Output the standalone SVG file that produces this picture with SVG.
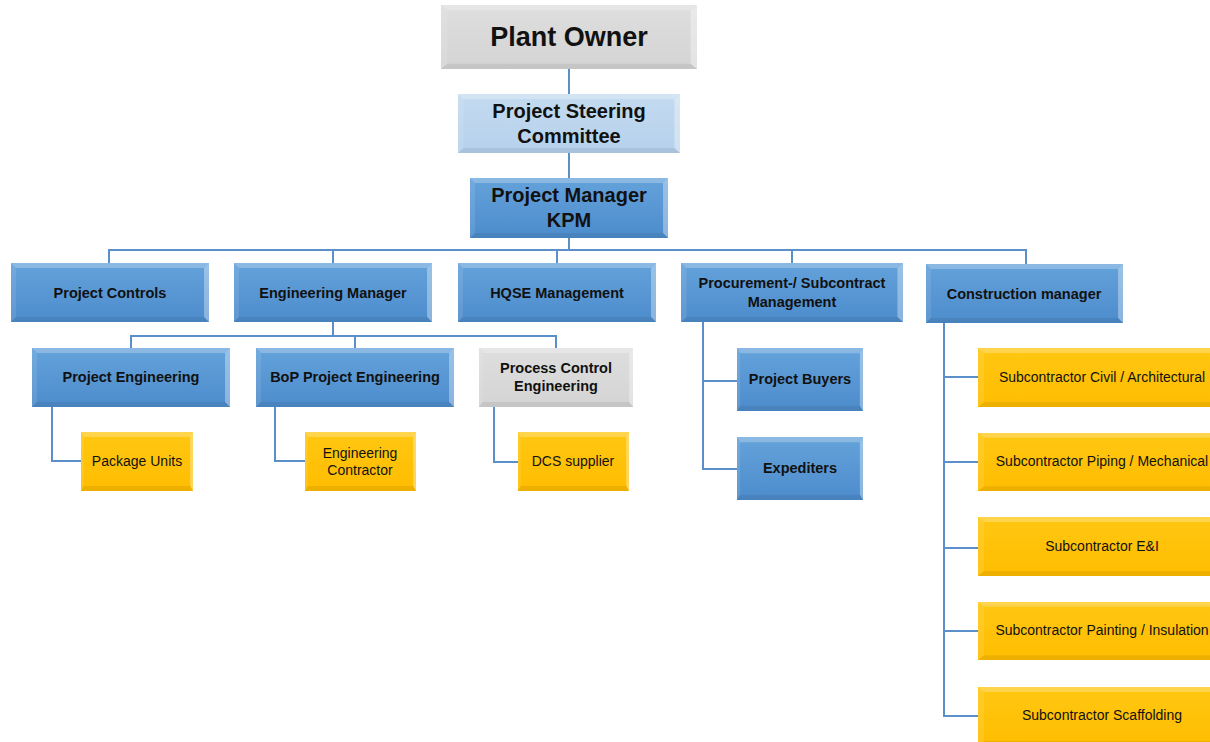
<svg xmlns="http://www.w3.org/2000/svg" width="1210" height="742" viewBox="0 0 1210 742">
<defs>
<linearGradient id="gBlue" x1="0" y1="0" x2="0" y2="1">
<stop offset="0" stop-color="#64a2db"/><stop offset="1" stop-color="#4d8ccc"/>
</linearGradient>
<linearGradient id="gLight" x1="0" y1="0" x2="0" y2="1">
<stop offset="0" stop-color="#c4dbf0"/><stop offset="1" stop-color="#b6d1ec"/>
</linearGradient>
<linearGradient id="gGray" x1="0" y1="0" x2="0" y2="1">
<stop offset="0" stop-color="#dedede"/><stop offset="1" stop-color="#d4d4d4"/>
</linearGradient>
<linearGradient id="gYellow" x1="0" y1="0" x2="0" y2="1">
<stop offset="0" stop-color="#ffc712"/><stop offset="1" stop-color="#ffbd00"/>
</linearGradient>
<symbol id="bevel" viewBox="0 0 200 60" preserveAspectRatio="none">
<polygon points="0,0 200,0 195,5 5,5" fill="#ffffff" fill-opacity="0.25"/>
<polygon points="0,0 5,5 5,55 0,60" fill="#ffffff" fill-opacity="0.1"/>
<polygon points="200,0 200,60 195,55 195,5" fill="#ffffff" fill-opacity="0.35"/>
<polygon points="0,60 200,60 195,55 5,55" fill="#000000" fill-opacity="0.07"/>
</symbol>
<style>
.blue{fill:url(#gBlue)}
.light{fill:url(#gLight)}
.gray{fill:url(#gGray)}
.yellow{fill:url(#gYellow)}
text{font-family:"Liberation Sans",Arial,sans-serif;fill:#111;text-anchor:middle}
.t1{font-size:27px;font-weight:bold}
.t2{font-size:20px;font-weight:bold}
.t3{font-size:14.5px;font-weight:bold}
.t4{font-size:14px}
.conn{fill:none;stroke:#5b8fca;stroke-width:2}
</style>
</defs>
<g id="connectors" class="conn">
<path d="M569,69 V94 M569,153 V178 M569,238 V250"/>
<path d="M109,263 V250 H1026 V264 M333,250 V263 M557,250 V263 M792,250 V263"/>
<path d="M333,322 V336 M131,348 V336 H556 V348 M355,336 V348"/>
<path d="M52,407 V461 H81 M275,407 V461 H305 M494,407 V462 H518"/>
<path d="M703,322 V469 H737 M703,381 H737"/>
<path d="M944,323 V716 H978 M944,377 H978 M944,462 H978 M944,548 H978 M944,631 H978"/>
</g>
<g id="plant-owner"><rect class="gray" x="441" y="5" width="256" height="64"/><use href="#bevel" x="441" y="5" width="256" height="64"/><text class="t1" x="569" y="46">Plant Owner</text></g>
<g id="steering"><rect class="light" x="458" y="94" width="222" height="59"/><use href="#bevel" x="458" y="94" width="222" height="59"/><text class="t2" x="569" y="118">Project Steering</text><text class="t2" x="569" y="143">Committee</text></g>
<g id="pm"><rect class="blue" x="470" y="178" width="198" height="60"/><use href="#bevel" x="470" y="178" width="198" height="60"/><text class="t2" x="569" y="202">Project Manager</text><text class="t2" x="569" y="227">KPM</text></g>
<g id="project-controls"><rect class="blue" x="11" y="263" width="198" height="59"/><use href="#bevel" x="11" y="263" width="198" height="59"/><text class="t3" x="110" y="298">Project Controls</text></g>
<g id="eng-manager"><rect class="blue" x="234" y="263" width="198" height="59"/><use href="#bevel" x="234" y="263" width="198" height="59"/><text class="t3" x="333" y="298">Engineering Manager</text></g>
<g id="hqse"><rect class="blue" x="458" y="263" width="198" height="59"/><use href="#bevel" x="458" y="263" width="198" height="59"/><text class="t3" x="557" y="298">HQSE Management</text></g>
<g id="procurement"><rect class="blue" x="681" y="263" width="222" height="59"/><use href="#bevel" x="681" y="263" width="222" height="59"/><text class="t3" x="792" y="288">Procurement-/ Subcontract</text><text class="t3" x="792" y="307">Management</text></g>
<g id="construction"><rect class="blue" x="926" y="264" width="197" height="59"/><use href="#bevel" x="926" y="264" width="197" height="59"/><text class="t3" x="1024" y="299">Construction manager</text></g>
<g id="project-eng"><rect class="blue" x="32" y="348" width="198" height="59"/><use href="#bevel" x="32" y="348" width="198" height="59"/><text class="t3" x="131" y="382">Project Engineering</text></g>
<g id="bop-eng"><rect class="blue" x="256" y="348" width="198" height="59"/><use href="#bevel" x="256" y="348" width="198" height="59"/><text class="t3" x="355" y="382">BoP Project Engineering</text></g>
<g id="process-control"><rect class="gray" x="479" y="348" width="154" height="59"/><use href="#bevel" x="479" y="348" width="154" height="59"/><text class="t3" x="556" y="373">Process Control</text><text class="t3" x="556" y="391">Engineering</text></g>
<g id="package-units"><rect class="yellow" x="81" y="432" width="112" height="59"/><use href="#bevel" x="81" y="432" width="112" height="59"/><text class="t4" x="137" y="466">Package Units</text></g>
<g id="eng-contractor"><rect class="yellow" x="305" y="432" width="111" height="59"/><use href="#bevel" x="305" y="432" width="111" height="59"/><text class="t4" x="360" y="458">Engineering</text><text class="t4" x="360" y="475">Contractor</text></g>
<g id="dcs"><rect class="yellow" x="518" y="432" width="111" height="59"/><use href="#bevel" x="518" y="432" width="111" height="59"/><text class="t4" x="573" y="466">DCS supplier</text></g>
<g id="buyers"><rect class="blue" x="737" y="348" width="126" height="63"/><use href="#bevel" x="737" y="348" width="126" height="63"/><text class="t3" x="800" y="384">Project Buyers</text></g>
<g id="expediters"><rect class="blue" x="737" y="437" width="126" height="63"/><use href="#bevel" x="737" y="437" width="126" height="63"/><text class="t3" x="800" y="473">Expediters</text></g>
<g id="sub-civil"><rect class="yellow" x="978" y="348" width="248" height="59"/><use href="#bevel" x="978" y="348" width="248" height="59"/><text class="t4" x="1102" y="382">Subcontractor Civil / Architectural</text></g>
<g id="sub-piping"><rect class="yellow" x="978" y="433" width="248" height="58"/><use href="#bevel" x="978" y="433" width="248" height="58"/><text class="t4" x="1102" y="466">Subcontractor Piping / Mechanical</text></g>
<g id="sub-ei"><rect class="yellow" x="978" y="517" width="248" height="59"/><use href="#bevel" x="978" y="517" width="248" height="59"/><text class="t4" x="1102" y="551">Subcontractor E&amp;I</text></g>
<g id="sub-painting"><rect class="yellow" x="978" y="602" width="248" height="58"/><use href="#bevel" x="978" y="602" width="248" height="58"/><text class="t4" x="1102" y="635">Subcontractor Painting / Insulation</text></g>
<g id="sub-scaffolding"><rect class="yellow" x="978" y="687" width="248" height="59"/><use href="#bevel" x="978" y="687" width="248" height="59"/><text class="t4" x="1102" y="720">Subcontractor Scaffolding</text></g>
</svg>
